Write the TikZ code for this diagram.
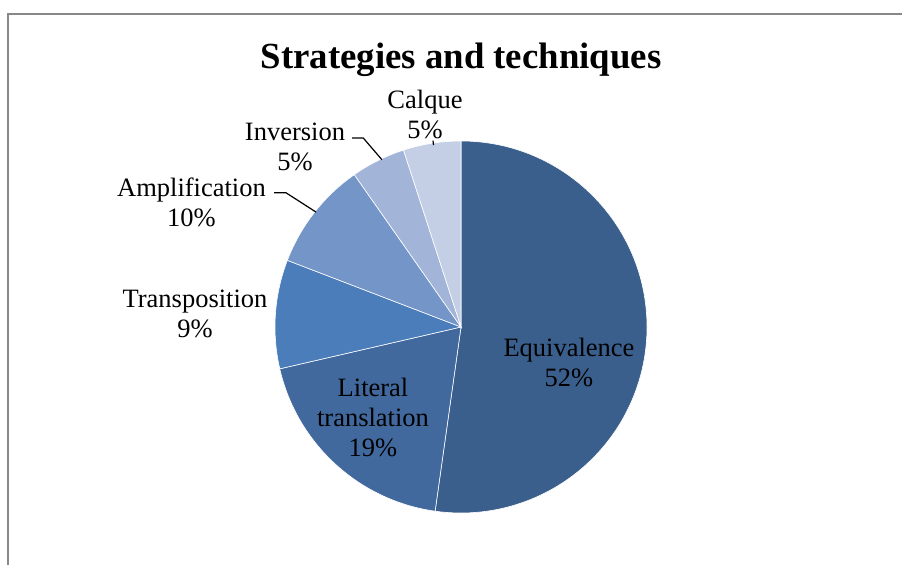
\documentclass[tikz,border=0pt]{standalone}
\usepackage{fontspec}
\setmainfont{Liberation Serif}
\usetikzlibrary{positioning}
\definecolor{eqv}{HTML}{3A5F8C}
\definecolor{lit}{HTML}{41699E}
\definecolor{trs}{HTML}{4A7DBA}
\definecolor{amp}{HTML}{7495C8}
\definecolor{inv}{HTML}{A2B4D7}
\definecolor{clq}{HTML}{C4CFE5}
\definecolor{framegray}{HTML}{888888}

\begin{document}
\begin{tikzpicture}[x=1pt,y=1pt,every node/.style={inner sep=0pt,align=center,font=\fontsize{26.5}{30}\selectfont},leader/.style={line width=1.2pt}]
  \useasboundingbox (0,0) rectangle (902,565);
  \draw[framegray,line width=1.5pt](8,0)--(8,551)--(902,551);
  \node[anchor=base,font=\fontsize{36.8}{40}\selectfont\bfseries] (title) at (461,496) {Strategies and techniques};
  % slices, clockwise from the top
  \begin{scope}[shift={(461,238)}]
    \foreach \a/\b/\c in {90/-98/eqv,-98/-167/lit,-167/-201/trs,-201/-235/amp,-235/-252/inv,-252/-270/clq}
      \filldraw[fill=\c,draw=white,line width=0.6pt](0,0)--(\a:186)arc[start angle=\a,end angle=\b,radius=186pt]--cycle;
    \coordinate (invE) at (115.3:185);
    \coordinate (ampE) at (141.6:185);
    \coordinate (clqE) at (98.6:184);
  \end{scope}
  \node (eqvL) at (569,202.5) {Equivalence\\52\%};
  \node (litL) at (373,147.5) {Literal\\translation\\19\%};
  \node (trsL) at (195,251.5) {Transposition\\9\%};
  \node (ampL) at (191.5,362.5) {Amplification\\10\%};
  \node (invL) at (295,418.5) {Inversion\\5\%};
  \node (clqL) at (425,450.5) {Calque\\5\%};
  \draw[leader]([xshift=8pt,yshift=9.7pt]ampL.east)--++(12,0)--(ampE);
  \draw[leader]([xshift=7pt,yshift=8.5pt]invL.east)--++(11,0)--(invE);
  \draw[leader]([xshift=8pt,yshift=-1.5pt]clqL.south)--(clqE);
\end{tikzpicture}
\end{document}
